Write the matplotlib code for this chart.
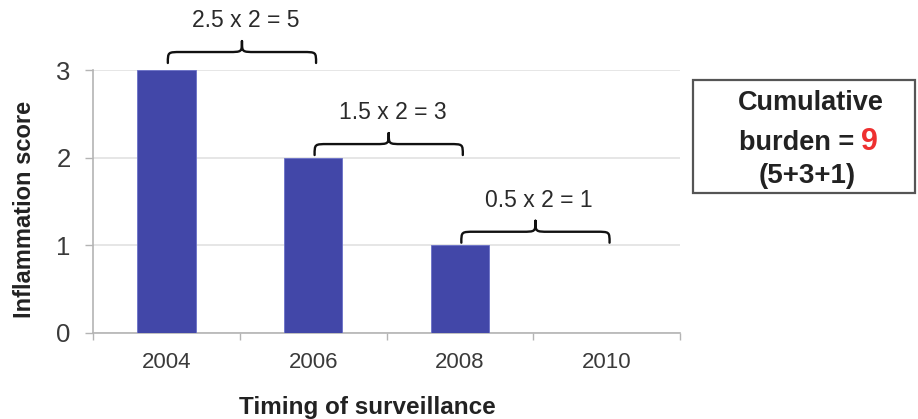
import matplotlib
matplotlib.use("Agg")
import matplotlib.pyplot as plt
from matplotlib.path import Path
from matplotlib.patches import PathPatch, Rectangle
import numpy as np

years = ["2004", "2006", "2008", "2010"]
scores = [3, 2, 1, 0]
brace_labels = ["2.5 x 2 = 5", "1.5 x 2 = 3", "0.5 x 2 = 1"]
brace_bases = [3.08, 2.03, 1.03]
burden_total = "9"
burden_sum = "(5+3+1)"

W, H = 918, 419
bar_col = "#4247a8"
grey = "#b4b4b4"
reg = ["Liberation Sans", "DejaVu Sans"]


def fx(px):
    return px / W


def fy(py):
    return 1 - py / H


def brace(ax, x0, x1, y0, h=0.25):
    # curly bracket opening downward, hooks at y0, tip at y0+h
    xm = (x0 + x1) / 2
    yh = y0 + h * 0.5
    r = (x1 - x0) * 0.09
    verts = [
        (x0, y0), (x0, yh), (x0, yh), (x0 + r, yh),
        (xm - r, yh),
        (xm, yh), (xm, yh), (xm, y0 + h),
        (xm, yh), (xm, yh), (xm + r, yh),
        (x1 - r, yh),
        (x1, yh), (x1, yh), (x1, y0),
    ]
    codes = [Path.MOVETO, Path.CURVE4, Path.CURVE4, Path.CURVE4,
             Path.LINETO,
             Path.CURVE4, Path.CURVE4, Path.CURVE4,
             Path.CURVE4, Path.CURVE4, Path.CURVE4,
             Path.LINETO,
             Path.CURVE4, Path.CURVE4, Path.CURVE4]
    p = PathPatch(Path(verts, codes), fill=False, lw=1.7, ec="#111111",
                  clip_on=False, capstyle="round", joinstyle="round")
    ax.add_patch(p)


fig = plt.figure(figsize=(W / 100, H / 100), dpi=100)
ax = fig.add_axes([fx(93), fy(333), (680 - 93) / W, (333 - 70) / H])

x = np.arange(len(years))
ax.bar(x, scores, width=0.4, color=bar_col, edgecolor="#6a70c8", linewidth=0.6, zorder=3)

ax.set_xlim(-0.5, len(years) - 0.5)
ax.set_ylim(0, 3)
ax.set_yticks([0, 1, 2, 3])
ax.set_yticklabels(["0", "1", "2", "3"], fontsize=18.5, family=reg, color="#3a3a3a")
ax.set_xticks(x)
ax.set_xticklabels(years, fontsize=16, family=reg, color="#3a3a3a")
ax.set_xticks(np.arange(-0.5, len(years)), minor=True)
ax.tick_params(axis="x", which="major", length=0, pad=14)
ax.tick_params(axis="x", which="minor", length=5, color=grey, width=1)
ax.tick_params(axis="y", length=6, color=grey, width=1, pad=10)
ax.yaxis.grid(True, color="#e2e2e2", lw=1.2, zorder=0)
for s in ["top", "right"]:
    ax.spines[s].set_visible(False)
for s in ["left", "bottom"]:
    ax.spines[s].set_color(grey)
    ax.spines[s].set_linewidth(1.2)

for i, (lab, base) in enumerate(zip(brace_labels, brace_bases)):
    brace(ax, i + 0.01, i + 1.02, base)
    ax.text(i + 0.54, base + 0.48, lab, ha="center", va="center",
            fontsize=16.5, family=reg, color="#2a2a2a", clip_on=False)

fig.text(fx(25), fy(209), "Inflammation score", rotation=90, ha="center", va="center",
         fontsize=17, fontweight="bold", family=reg, color="#222222")
fig.text(fx(367), fy(407), "Timing of surveillance", ha="center", va="center",
         fontsize=17.5, fontweight="bold", family=reg, color="#222222")

box = Rectangle((fx(693), fy(193)), fx(915) - fx(693), fy(80) - fy(193),
                transform=fig.transFigure, fill=False, ec="#555555", lw=1.6)
fig.patches.append(box)
fig.text(fx(811), fy(103), "Cumulative", ha="center", va="center",
         fontsize=19.5, fontweight="bold", family=reg, color="#222222")
fig.text(fx(854), fy(143), "burden =", ha="right", va="center",
         fontsize=19.5, fontweight="bold", family=reg, color="#222222")
fig.text(fx(861), fy(142), burden_total, ha="left", va="center",
         fontsize=22, fontweight="bold", family=reg, color="#ee3030")
fig.text(fx(807), fy(176), burden_sum, ha="center", va="center",
         fontsize=20, fontweight="bold", family=reg, color="#222222")

fig.savefig("out.png", dpi=100, facecolor="white")
